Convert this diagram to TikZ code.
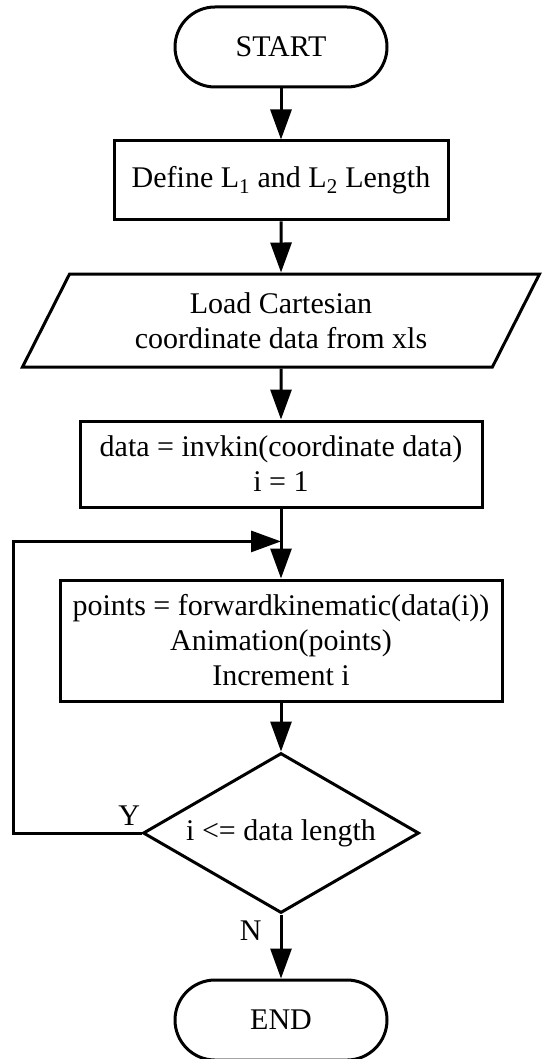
\documentclass[tikz,border=0pt]{standalone}
\usepackage{fontspec}
\setmainfont{Liberation Serif}
\usepackage{tikz}
\tikzset{
terminal/.style={draw, rectangle, rounded corners=40pt, minimum width=212pt, minimum height=80pt},
process/.style={draw, rectangle, align=center, inner sep=0pt},
io/.style={draw, trapezium, trapezium left angle=50, trapezium right angle=130, trapezium stretches body, align=center, minimum height=93pt, minimum width=517pt, inner sep=0pt},
decision/.style={draw, diamond, aspect=1.725, minimum width=276pt, minimum height=160pt, inner sep=0pt},
flow/.style = {-{Triangle[length=30pt, width=21pt]}},
lbl/.style = {inner sep=0pt}
}
\usetikzlibrary{arrows.meta, calc, positioning, shapes.geometric}

\begin{document}
\begin{tikzpicture}[x=1pt, y=1pt, line width=3pt, font=\fontsize{30}{35}\selectfont]
			\useasboundingbox (0,0) rectangle (543,-1059);
			\node[terminal] (start) at (281,-47) {START};
			\node[process, minimum width=334pt, minimum height=79pt, below = 51pt of start] (define) {Define L\textsubscript{1} and L\textsubscript{2} Length};
			\node[io, below = 51pt of define] (load) {Load Cartesian\\coordinate data from xls};
			\node[process, minimum width=402pt, minimum height=86pt, below = 51pt of load] (data) {data = invkin(coordinate data)\\i = 1};
			\node[process, minimum width=442pt, minimum height=121pt, below = 70pt of data] (points) {points = forwardkinematic(data(i))\\Animation(points)\\Increment i};
			\node[decision, below = 49pt of points] (cond) {i <= data length};
			\node[terminal, below = 64pt of cond] (stop) {END};
			\coordinate (merge) at ($(data.south)!0.47!(points.north)$);
			% ----
			\draw[flow] (start) -- (define);
			\draw[flow] (define) -- (load);
			\draw[flow] (load) -- (data);
			\draw[flow] (data) -- (points);
			\draw[flow] (points) -- (cond);
			\draw[flow] (cond.west) node[lbl, anchor=south east, yshift=6pt] {Y} -- ++(-128,0) |- (merge);
			\draw[flow] (cond.south) node[lbl, anchor=north east, xshift=-18pt, yshift=-5pt] {N} -- (stop);
		\end{tikzpicture}
\end{document}
